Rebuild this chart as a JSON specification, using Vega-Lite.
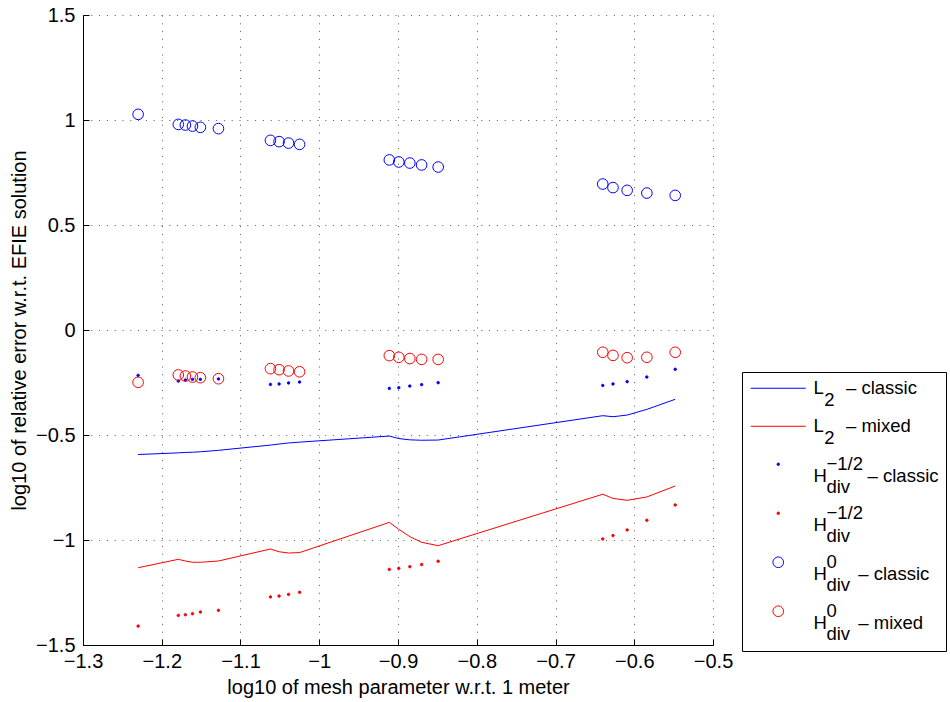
{
  "$schema": "https://vega.github.io/schema/vega-lite/v6.json",
  "width": 630,
  "height": 630,
  "autosize": "none",
  "padding": {"left": 83, "top": 15, "right": 237, "bottom": 57},
  "background": "white",
  "config": {
    "view": {"stroke": null},
    "font": "Liberation Sans",
    "axis": {
      "domainColor": "#000",
      "domainWidth": 1,
      "gridColor": "#222",
      "gridOpacity": 0.75,
      "gridDash": [1, 6.8],
      "gridWidth": 1,
      "tickColor": "#000",
      "tickSize": -6,
      "tickWidth": 1,
      "labelColor": "#000",
      "labelFont": "Liberation Sans",
      "labelFontSize": 20,
      "titleColor": "#000",
      "titleFont": "Liberation Sans",
      "titleFontSize": 20,
      "titleFontWeight": "normal"
    },
    "legend": {
      "title": null,
      "orient": "none",
      "legendX": 659,
      "legendY": 357,
      "padding": 7,
      "strokeColor": "#000",
      "fillColor": "#fff",
      "cornerRadius": 0,
      "labelFont": "Liberation Sans",
      "labelFontSize": 18.5,
      "labelColor": "#000",
      "labelLimit": 0,
      "labelOffset": 26,
      "symbolOffset": 20,
      "rowPadding": 7,
      "symbolStrokeWidth": 1,
      "symbolOpacity": 1
    }
  },
  "data": {
    "values": [
      {"s": "L2 classic", "x": -1.230, "y": -0.593},
      {"s": "L2 classic", "x": -1.179, "y": -0.585},
      {"s": "L2 classic", "x": -1.170, "y": -0.583},
      {"s": "L2 classic", "x": -1.161, "y": -0.582},
      {"s": "L2 classic", "x": -1.151, "y": -0.580},
      {"s": "L2 classic", "x": -1.128, "y": -0.573},
      {"s": "L2 classic", "x": -1.062, "y": -0.548},
      {"s": "L2 classic", "x": -1.051, "y": -0.543},
      {"s": "L2 classic", "x": -1.039, "y": -0.538},
      {"s": "L2 classic", "x": -1.025, "y": -0.534},
      {"s": "L2 classic", "x": -0.911, "y": -0.505},
      {"s": "L2 classic", "x": -0.899, "y": -0.517},
      {"s": "L2 classic", "x": -0.885, "y": -0.523},
      {"s": "L2 classic", "x": -0.870, "y": -0.525},
      {"s": "L2 classic", "x": -0.849, "y": -0.524},
      {"s": "L2 classic", "x": -0.640, "y": -0.408},
      {"s": "L2 classic", "x": -0.627, "y": -0.413},
      {"s": "L2 classic", "x": -0.609, "y": -0.405},
      {"s": "L2 classic", "x": -0.584, "y": -0.378},
      {"s": "L2 classic", "x": -0.548, "y": -0.330},

      {"s": "L2 mixed", "x": -1.230, "y": -1.132},
      {"s": "L2 mixed", "x": -1.179, "y": -1.092},
      {"s": "L2 mixed", "x": -1.170, "y": -1.100},
      {"s": "L2 mixed", "x": -1.161, "y": -1.106},
      {"s": "L2 mixed", "x": -1.151, "y": -1.106},
      {"s": "L2 mixed", "x": -1.128, "y": -1.100},
      {"s": "L2 mixed", "x": -1.062, "y": -1.043},
      {"s": "L2 mixed", "x": -1.051, "y": -1.056},
      {"s": "L2 mixed", "x": -1.039, "y": -1.062},
      {"s": "L2 mixed", "x": -1.025, "y": -1.060},
      {"s": "L2 mixed", "x": -0.911, "y": -0.916},
      {"s": "L2 mixed", "x": -0.899, "y": -0.949},
      {"s": "L2 mixed", "x": -0.885, "y": -0.984},
      {"s": "L2 mixed", "x": -0.870, "y": -1.011},
      {"s": "L2 mixed", "x": -0.849, "y": -1.027},
      {"s": "L2 mixed", "x": -0.640, "y": -0.782},
      {"s": "L2 mixed", "x": -0.627, "y": -0.802},
      {"s": "L2 mixed", "x": -0.609, "y": -0.811},
      {"s": "L2 mixed", "x": -0.584, "y": -0.795},
      {"s": "L2 mixed", "x": -0.548, "y": -0.743},

      {"s": "Hdiv-1/2 classic", "x": -1.230, "y": -0.216},
      {"s": "Hdiv-1/2 classic", "x": -1.179, "y": -0.243},
      {"s": "Hdiv-1/2 classic", "x": -1.170, "y": -0.238},
      {"s": "Hdiv-1/2 classic", "x": -1.161, "y": -0.235},
      {"s": "Hdiv-1/2 classic", "x": -1.151, "y": -0.235},
      {"s": "Hdiv-1/2 classic", "x": -1.128, "y": -0.233},
      {"s": "Hdiv-1/2 classic", "x": -1.062, "y": -0.259},
      {"s": "Hdiv-1/2 classic", "x": -1.051, "y": -0.257},
      {"s": "Hdiv-1/2 classic", "x": -1.039, "y": -0.252},
      {"s": "Hdiv-1/2 classic", "x": -1.025, "y": -0.248},
      {"s": "Hdiv-1/2 classic", "x": -0.911, "y": -0.278},
      {"s": "Hdiv-1/2 classic", "x": -0.899, "y": -0.275},
      {"s": "Hdiv-1/2 classic", "x": -0.885, "y": -0.267},
      {"s": "Hdiv-1/2 classic", "x": -0.870, "y": -0.260},
      {"s": "Hdiv-1/2 classic", "x": -0.849, "y": -0.251},
      {"s": "Hdiv-1/2 classic", "x": -0.640, "y": -0.264},
      {"s": "Hdiv-1/2 classic", "x": -0.627, "y": -0.257},
      {"s": "Hdiv-1/2 classic", "x": -0.609, "y": -0.246},
      {"s": "Hdiv-1/2 classic", "x": -0.584, "y": -0.224},
      {"s": "Hdiv-1/2 classic", "x": -0.548, "y": -0.187},

      {"s": "Hdiv-1/2 mixed", "x": -1.230, "y": -1.410},
      {"s": "Hdiv-1/2 mixed", "x": -1.179, "y": -1.359},
      {"s": "Hdiv-1/2 mixed", "x": -1.170, "y": -1.356},
      {"s": "Hdiv-1/2 mixed", "x": -1.161, "y": -1.351},
      {"s": "Hdiv-1/2 mixed", "x": -1.151, "y": -1.343},
      {"s": "Hdiv-1/2 mixed", "x": -1.128, "y": -1.335},
      {"s": "Hdiv-1/2 mixed", "x": -1.062, "y": -1.271},
      {"s": "Hdiv-1/2 mixed", "x": -1.051, "y": -1.267},
      {"s": "Hdiv-1/2 mixed", "x": -1.039, "y": -1.259},
      {"s": "Hdiv-1/2 mixed", "x": -1.025, "y": -1.249},
      {"s": "Hdiv-1/2 mixed", "x": -0.911, "y": -1.140},
      {"s": "Hdiv-1/2 mixed", "x": -0.899, "y": -1.135},
      {"s": "Hdiv-1/2 mixed", "x": -0.885, "y": -1.127},
      {"s": "Hdiv-1/2 mixed", "x": -0.870, "y": -1.117},
      {"s": "Hdiv-1/2 mixed", "x": -0.849, "y": -1.101},
      {"s": "Hdiv-1/2 mixed", "x": -0.640, "y": -0.995},
      {"s": "Hdiv-1/2 mixed", "x": -0.627, "y": -0.979},
      {"s": "Hdiv-1/2 mixed", "x": -0.609, "y": -0.952},
      {"s": "Hdiv-1/2 mixed", "x": -0.584, "y": -0.906},
      {"s": "Hdiv-1/2 mixed", "x": -0.548, "y": -0.833},

      {"s": "Hdiv0 classic", "x": -1.230, "y": 1.027},
      {"s": "Hdiv0 classic", "x": -1.179, "y": 0.979},
      {"s": "Hdiv0 classic", "x": -1.170, "y": 0.976},
      {"s": "Hdiv0 classic", "x": -1.161, "y": 0.971},
      {"s": "Hdiv0 classic", "x": -1.151, "y": 0.965},
      {"s": "Hdiv0 classic", "x": -1.128, "y": 0.959},
      {"s": "Hdiv0 classic", "x": -1.062, "y": 0.903},
      {"s": "Hdiv0 classic", "x": -1.051, "y": 0.897},
      {"s": "Hdiv0 classic", "x": -1.039, "y": 0.890},
      {"s": "Hdiv0 classic", "x": -1.025, "y": 0.884},
      {"s": "Hdiv0 classic", "x": -0.911, "y": 0.810},
      {"s": "Hdiv0 classic", "x": -0.899, "y": 0.800},
      {"s": "Hdiv0 classic", "x": -0.885, "y": 0.795},
      {"s": "Hdiv0 classic", "x": -0.870, "y": 0.786},
      {"s": "Hdiv0 classic", "x": -0.849, "y": 0.776},
      {"s": "Hdiv0 classic", "x": -0.640, "y": 0.695},
      {"s": "Hdiv0 classic", "x": -0.627, "y": 0.678},
      {"s": "Hdiv0 classic", "x": -0.609, "y": 0.665},
      {"s": "Hdiv0 classic", "x": -0.584, "y": 0.652},
      {"s": "Hdiv0 classic", "x": -0.548, "y": 0.641},

      {"s": "Hdiv0 mixed", "x": -1.230, "y": -0.249},
      {"s": "Hdiv0 mixed", "x": -1.179, "y": -0.214},
      {"s": "Hdiv0 mixed", "x": -1.170, "y": -0.219},
      {"s": "Hdiv0 mixed", "x": -1.161, "y": -0.224},
      {"s": "Hdiv0 mixed", "x": -1.151, "y": -0.227},
      {"s": "Hdiv0 mixed", "x": -1.128, "y": -0.232},
      {"s": "Hdiv0 mixed", "x": -1.062, "y": -0.184},
      {"s": "Hdiv0 mixed", "x": -1.051, "y": -0.189},
      {"s": "Hdiv0 mixed", "x": -1.039, "y": -0.195},
      {"s": "Hdiv0 mixed", "x": -1.025, "y": -0.199},
      {"s": "Hdiv0 mixed", "x": -0.911, "y": -0.122},
      {"s": "Hdiv0 mixed", "x": -0.899, "y": -0.130},
      {"s": "Hdiv0 mixed", "x": -0.885, "y": -0.136},
      {"s": "Hdiv0 mixed", "x": -0.870, "y": -0.140},
      {"s": "Hdiv0 mixed", "x": -0.849, "y": -0.140},
      {"s": "Hdiv0 mixed", "x": -0.640, "y": -0.106},
      {"s": "Hdiv0 mixed", "x": -0.627, "y": -0.121},
      {"s": "Hdiv0 mixed", "x": -0.609, "y": -0.132},
      {"s": "Hdiv0 mixed", "x": -0.584, "y": -0.130},
      {"s": "Hdiv0 mixed", "x": -0.548, "y": -0.106}
    ]
  },
  "encoding": {
    "x": {
      "field": "x",
      "type": "quantitative",
      "scale": {"domain": [-1.3, -0.5], "nice": false, "zero": false},
      "axis": {
        "title": "log10 of mesh parameter w.r.t. 1 meter",
        "values": [-1.3, -1.2, -1.1, -1.0, -0.9, -0.8, -0.7, -0.6, -0.5],
        "format": ".1~f",
        "labelPadding": 12,
        "titlePadding": 6,
        "labelFlush": false
      }
    },
    "y": {
      "field": "y",
      "type": "quantitative",
      "scale": {"domain": [-1.5, 1.5], "nice": false, "zero": false},
      "axis": {
        "title": "log10 of relative error w.r.t. EFIE solution",
        "values": [-1.5, -1.0, -0.5, 0, 0.5, 1.0, 1.5],
        "format": ".1~f",
        "labelPadding": 14,
        "titlePadding": 6,
        "labelFlush": false
      }
    },
    "stroke": {
      "field": "s",
      "type": "nominal",
      "scale": {
        "domain": ["L2 classic", "L2 mixed", "Hdiv-1/2 classic", "Hdiv-1/2 mixed", "Hdiv0 classic", "Hdiv0 mixed"],
        "range": ["#0000ff", "#ff0000", "#0000ff", "#ff0000", "#0000ff", "#ff0000"]
      },
      "legend": {
        "labelExpr": "({'L2 classic': ['L\u2003\u2009– classic', '\u2060\u2002\u200a2'], 'L2 mixed': ['L\u2003\u2009– mixed', '\u2060\u2002\u200a2'], 'Hdiv-1/2 classic': ['\u2060\u2002\u2009−1/2', 'H\u2003\u2003\u2009– classic', '\u2060\u2002\u2009div'], 'Hdiv-1/2 mixed': ['\u2060\u2002\u2009−1/2', 'H', '\u2060\u2002\u2009div'], 'Hdiv0 classic': ['\u2060\u2002\u20090', 'H\u2003\u2002\u2009– classic', '\u2060\u2002\u2009div'], 'Hdiv0 mixed': ['\u2060\u2002\u20090', 'H\u2003\u2002\u2009– mixed', '\u2060\u2002\u2009div']})[datum.value]",
        "encode": {
          "labels": {"update": {"lineHeight": {"value": 11.5}}}
        }
      }
    }
  },
  "layer": [
    {
      "transform": [{"filter": "indexof(['L2 classic', 'L2 mixed'], datum.s) >= 0"}],
      "mark": {"type": "line", "strokeWidth": 1, "clip": true}
    },
    {
      "transform": [{"filter": "indexof(['L2 classic', 'L2 mixed'], datum.s) < 0"}],
      "mark": {"type": "point", "strokeWidth": 1, "opacity": 1},
      "encoding": {
        "fill": {
          "field": "s",
          "type": "nominal",
          "scale": {
            "domain": ["L2 classic", "L2 mixed", "Hdiv-1/2 classic", "Hdiv-1/2 mixed", "Hdiv0 classic", "Hdiv0 mixed"],
            "range": ["transparent", "transparent", "#0000ff", "#ff0000", "transparent", "transparent"]
          }
        },
        "shape": {
          "field": "s",
          "type": "nominal",
          "scale": {
            "domain": ["L2 classic", "L2 mixed", "Hdiv-1/2 classic", "Hdiv-1/2 mixed", "Hdiv0 classic", "Hdiv0 mixed"],
            "range": ["M-5.5,0H5.5", "M-5.5,0H5.5", "circle", "circle", "circle", "circle"]
          }
        },
        "size": {
          "field": "s",
          "type": "nominal",
          "scale": {
            "type": "ordinal",
            "domain": ["L2 classic", "L2 mixed", "Hdiv-1/2 classic", "Hdiv-1/2 mixed", "Hdiv0 classic", "Hdiv0 mixed"],
            "range": [100, 100, 6, 6, 113, 113]
          }
        }
      }
    }
  ]
}
